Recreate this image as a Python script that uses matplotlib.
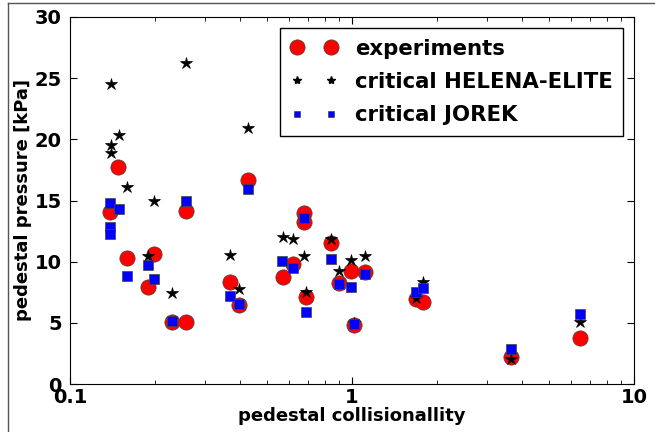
import matplotlib
matplotlib.use('Agg')
import matplotlib.pyplot as plt
from matplotlib.lines import Line2D

# experiments
exp_nu = [0.1387, 0.1483, 0.1589, 0.189, 0.1985, 0.2306, 0.2585, 0.2585, 0.3684, 0.3975,
          0.4277, 0.569, 0.6163, 0.6755, 0.6755, 0.6855, 0.845, 0.8994, 0.9945, 1.017,
          1.112, 1.69, 1.79, 3.65, 6.42]
exp_p = [14.04, 17.72, 10.3, 7.9, 10.63, 5.1, 5.1, 14.15, 8.37, 6.46,
         16.68, 8.72, 9.81, 13.95, 13.27, 7.14, 11.5, 8.28, 9.26, 4.85,
         9.18, 6.95, 6.73, 2.18, 3.79]

# critical HELENA-ELITE
hel_nu = [0.1394, 0.1394, 0.1394, 0.1492, 0.1596, 0.189, 0.1985, 0.2306, 0.2572, 0.3684,
          0.3975, 0.4277, 0.569, 0.6163, 0.6755, 0.6855, 0.845, 0.8994, 0.9945, 1.017,
          1.112, 1.69, 1.79, 3.65, 6.42]
hel_p = [24.53, 19.54, 18.91, 20.38, 16.13, 10.47, 14.96, 7.47, 26.22, 10.55,
         7.77, 20.96, 11.99, 11.83, 10.47, 7.5, 11.86, 9.26, 10.14, 5.0,
         10.47, 7.06, 8.37, 2.04, 5.04]

# critical JOREK
jor_nu = [0.1387, 0.1492, 0.139, 0.139, 0.1589, 0.189, 0.1985, 0.2306, 0.2585, 0.4277,
          0.3684, 0.3975, 0.566, 0.6163, 0.6755, 0.6855, 0.845, 0.8994, 0.9945, 1.017,
          1.112, 1.69, 1.79, 3.65, 6.42]
jor_p = [14.83, 14.31, 12.86, 12.26, 8.83, 9.73, 8.56, 5.15, 14.99, 15.95,
         7.19, 6.54, 10.08, 9.51, 13.55, 5.91, 10.22, 8.15, 7.96, 4.9,
         8.99, 7.5, 7.82, 2.84, 5.69]

fig = plt.figure(figsize=(6.55, 4.32), dpi=100)
ax = fig.add_axes([70/655, 1 - 384/432, (634 - 70)/655, (384 - 17)/432])

ax.plot(exp_nu, exp_p, 'o', color='red', markersize=11, markeredgecolor='#444444',
        markeredgewidth=0.5, zorder=3)
ax.plot(hel_nu, hel_p, '*', color='black', markersize=9, markeredgewidth=0.5, zorder=4)
ax.plot(jor_nu, jor_p, 's', color='blue', markersize=7.5, markeredgecolor='#444444',
        markeredgewidth=0.5, zorder=5)

ax.set_xscale('log')
ax.set_xlim(0.1, 10)
ax.set_ylim(0, 30)
ax.set_yticks([0, 5, 10, 15, 20, 25, 30])
ax.set_xticks([0.1, 1, 10])
ax.set_xticklabels(['0.1', '1', '10'])
ax.tick_params(which='both', direction='in', top=True, right=True)
ax.tick_params(which='major', length=5, labelsize=14)
ax.tick_params(axis='x', which='major', pad=3)
ax.tick_params(axis='y', which='major', pad=6)
ax.tick_params(which='minor', length=3)
for lab in ax.get_xticklabels() + ax.get_yticklabels():
    lab.set_fontweight('bold')

ax.set_xlabel('pedestal collisionallity', fontsize=13, fontweight='bold', labelpad=0)
ax.set_ylabel('pedestal pressure [kPa]', fontsize=13, fontweight='bold', labelpad=2)

handles = [
    Line2D([], [], ls='none', marker='o', color='red', markersize=11,
           markeredgecolor='#444444', markeredgewidth=0.5),
    Line2D([], [], ls='none', marker='*', color='black', markersize=6),
    Line2D([], [], ls='none', marker='s', color='blue', markersize=5,
           markeredgecolor='#444444', markeredgewidth=0.5),
]
leg = ax.legend(handles, ['experiments', 'critical HELENA-ELITE', 'critical JOREK'],
                numpoints=2, loc='upper right', fancybox=False, framealpha=1,
                prop={'weight': 'bold', 'size': 15.3}, handlelength=2.2,
                borderpad=0.5, labelspacing=0.62, borderaxespad=0,
                bbox_to_anchor=((623 - 70)/564, (384 - 28)/367))
leg.get_frame().set_edgecolor('black')

# outer frame of the original screenshot
fig.add_artist(Line2D([8/655, 1], [1 - 3/432, 1 - 3/432], color='#555555', lw=1))
fig.add_artist(Line2D([8/655, 8/655], [0, 1 - 3/432], color='#555555', lw=1))

fig.savefig('out.png', dpi=100)
